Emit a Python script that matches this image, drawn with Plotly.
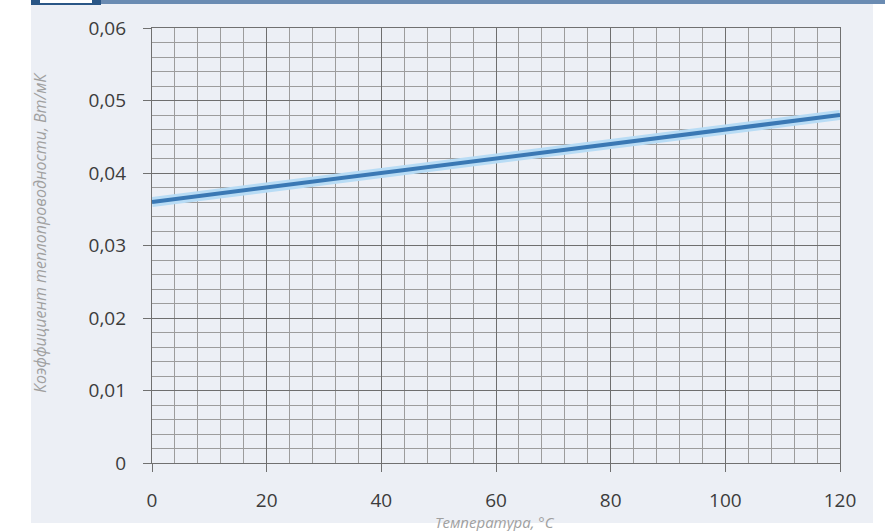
import plotly.graph_objects as go

temperature = [0, 20, 40, 60, 80, 100, 120]
conductivity = [0.036, 0.038, 0.040, 0.042, 0.044, 0.046, 0.048]
x_ticks = [0, 20, 40, 60, 80, 100, 120]
y_ticks = [0, 0.01, 0.02, 0.03, 0.04, 0.05, 0.06]
y_tick_labels = ["0", "0,01", "0,02", "0,03", "0,04", "0,05", "0,06"]
x_title = "Температура, °C"
y_title = "Коэффициент теплопроводности, Вт/мК"

W, H = 885, 531
L, R, T, B = 152, 840, 28, 463  # plot area in pixels


def px(x):
    return (x - L) / (R - L)


def py(y):
    return (B - y) / (B - T)


fig = go.Figure()
# halo
fig.add_trace(go.Scatter(x=temperature, y=conductivity, mode="lines",
                         line=dict(color="#b8dcf5", width=10), hoverinfo="skip", showlegend=False))
fig.add_trace(go.Scatter(x=temperature, y=conductivity, mode="lines",
                         line=dict(color="#3a78b4", width=4), showlegend=False))

tickfont = dict(family="Open Sans, Liberation Sans, sans-serif", size=19, color="#3c3c3c")
common = dict(showgrid=True, gridcolor="#6e6e6e", gridwidth=1.3,
              ticks="outside", ticklen=8, tickcolor="#707070", tickwidth=1.3,
              showline=True, linecolor="#707070", linewidth=1.3, mirror=True,
              zeroline=False, tickfont=tickfont, fixedrange=True)
fig.update_xaxes(range=[0, 120], tickvals=x_ticks, ticktext=[str(v) for v in x_ticks],
                 minor=dict(dtick=4, showgrid=True, gridcolor="#9c9c9c", gridwidth=1),
                 ticklabelstandoff=12, **common)
fig.update_yaxes(range=[0, 0.06], tickvals=y_ticks, ticktext=y_tick_labels,
                 minor=dict(dtick=0.002, showgrid=True, gridcolor="#9c9c9c", gridwidth=1),
                 ticklabelstandoff=13, **common)

shapes = [
    dict(type="rect", xref="paper", yref="paper", layer="below",
         x0=px(31), x1=px(873), y0=py(523), y1=py(4),
         fillcolor="#eceff5", line=dict(width=0)),
    dict(type="rect", xref="paper", yref="paper", layer="above",
         x0=px(31), x1=px(885), y0=py(4), y1=py(-2),
         fillcolor="#6a8bb2", line=dict(width=0)),
    dict(type="rect", xref="paper", yref="paper", layer="above",
         x0=px(31), x1=px(101), y0=py(5), y1=py(-2),
         fillcolor="#2a5686", line=dict(width=0)),
    dict(type="rect", xref="paper", yref="paper", layer="above",
         x0=px(40), x1=px(92), y0=py(3), y1=py(-2),
         fillcolor="#ffffff", line=dict(width=0)),
]

titlefont = dict(family="Open Sans, Liberation Sans, sans-serif", size=15, color="#a0a0a0", style="italic")
annotations = [
    dict(text=x_title, xref="paper", yref="paper", x=px(495), y=py(522),
         showarrow=False, font=titlefont, xanchor="center", yanchor="middle"),
    dict(text=y_title, xref="paper", yref="paper", x=px(40), y=py(232),
         showarrow=False, font=dict(titlefont, size=16), textangle=-90,
         xanchor="center", yanchor="middle"),
]

fig.update_layout(width=W, height=H, margin=dict(l=L, r=W - R, t=T, b=H - B),
                  paper_bgcolor="#ffffff", plot_bgcolor="#f1f3f8",
                  shapes=shapes, annotations=annotations, showlegend=False)
fig.write_html("out.html", config={"displayModeBar": False},
               post_script="document.body.style.margin='0';document.body.style.overflow='hidden';")
